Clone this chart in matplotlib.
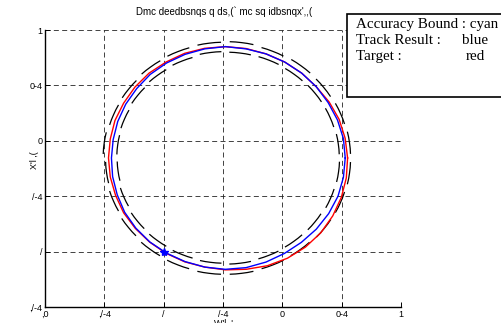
import numpy as np
import matplotlib
matplotlib.use("Agg")
import matplotlib.pyplot as plt
from matplotlib.patches import Arc, Rectangle

# ---------------------------------------------------------------------------
# Data (polar readings around the circle centre)
# ---------------------------------------------------------------------------
center = (0.52, 0.845)

angles_deg = [0, 10, 20, 30, 40, 50, 60, 70, 80, 90, 100, 110, 120, 130, 140, 150, 160, 170,
              180, 190, 200, 210, 220, 230, 240, 250, 260, 270, 280, 290, 300, 310, 320, 330,
              340, 350, 360]

track_r = [1.01, 1.01, 1.005, 1.0, 1.0, 1.0, 1.0, 1.0, 1.0, 1.005, 1.0, 0.995, 0.99, 0.985,
           0.975, 0.97, 0.965, 0.96, 0.96, 0.965, 0.97, 0.98, 0.985, 0.99, 0.992, 0.995, 1.0,
           1.005, 1.005, 1.0, 0.995, 0.995, 1.0, 1.005, 1.01, 1.01, 1.01]

target_r = [1.03, 1.025, 1.02, 1.01, 1.0, 1.0, 1.0, 1.0, 1.003, 1.005, 1.005, 1.005, 1.0, 1.0,
            0.995, 0.99, 0.99, 0.985, 0.985, 0.985, 0.985, 0.99, 0.99, 0.992, 0.995, 0.998, 1.0,
            1.01, 1.02, 1.035, 1.045, 1.05, 1.05, 1.045, 1.04, 1.035, 1.03]

# accuracy bound: short arcs (start angle, end angle, outer radius, inner radius)
bound_theta1 = [2, 17, 32, 47, 62, 77, 92, 107, 122, 137, 152, 167,
                182, 197, 212, 227, 242, 257, 272, 287, 302, 317, 332, 347]
bound_theta2 = [13, 28, 43, 58, 73, 88, 103, 118, 133, 148, 163, 178,
                193, 208, 223, 238, 253, 268, 283, 298, 313, 328, 343, 358]
bound_outer = [1.055, 1.05, 1.045, 1.048, 1.042, 1.05, 1.045, 1.04, 1.035, 1.025, 1.02, 1.03,
               1.01, 1.02, 1.03, 1.04, 1.045, 1.05, 1.05, 1.045, 1.04, 1.048, 1.05, 1.055]
bound_inner = [0.96, 0.955, 0.955, 0.952, 0.956, 0.955, 0.96, 0.948, 0.94, 0.93, 0.92, 0.915,
               0.912, 0.925, 0.935, 0.94, 0.945, 0.95, 0.958, 0.952, 0.948, 0.95, 0.958, 0.962]

start_point = (0.0, 0.0)

xticks = [-1, -0.5, 0, 0.5, 1, 1.5, 2]
xtick_labels = [",0", ",/-4", "/", "/-4", "0", "0-4", "1"]
yticks = [-0.5, 0, 0.5, 1, 1.5, 2]
ytick_labels = [",/-4", "/", "/-4", "0", "0-4", "1"]

title_text = "Dmc deedbsnqs q ds,(` mc sq idbsnqx',,("

# ---------------------------------------------------------------------------
# Figure
# ---------------------------------------------------------------------------
W, H = 502, 323
fig = plt.figure(figsize=(W / 100, H / 100), dpi=100)
ax = fig.add_axes([45 / W, 1 - 307 / H, 356 / W, 277 / H])

th = np.radians(angles_deg)
tx = center[0] + np.array(track_r) * np.cos(th)
ty = center[1] + np.array(track_r) * np.sin(th)
gx = center[0] + np.array(target_r) * np.cos(th)
gy = center[1] + np.array(target_r) * np.sin(th)

for t1, t2, ro, ri in zip(bound_theta1, bound_theta2, bound_outer, bound_inner):
    for r in (ro, ri):
        ax.add_patch(Arc(center, 2 * r, 2 * r, theta1=t1, theta2=t2,
                         color="black", lw=0.9))

ax.plot(gx, gy, color="red", lw=1.0)
ax.plot(tx, ty, color="blue", lw=1.0)
ax.plot(*start_point, marker="*", color="blue", ms=6)

ax.set_xlim(-1, 2)
ax.set_ylim(-0.5, 2)
ax.set_xticks(xticks)
ax.set_xticklabels(xtick_labels)
ax.set_yticks(yticks)
ax.set_yticklabels(ytick_labels)
ax.tick_params(direction="in", length=3.5, width=0.7, labelsize=6.5, pad=2)
for lab in ax.get_xticklabels() + ax.get_yticklabels():
    lab.set_family("Liberation Sans")

ax.spines["top"].set_visible(False)
ax.spines["right"].set_visible(False)
ax.spines["left"].set_linewidth(1.0)
ax.spines["bottom"].set_linewidth(1.0)
ax.grid(True, color="#222222", linestyle=(0, (6, 4)), lw=0.6)
ax.set_axisbelow(True)

fig.text(224 / W, 1 - 12 / H, title_text, ha="center", va="center",
         fontsize=7, family="Liberation Sans")
fig.text(35 / W, 1 - 160 / H, "X'l ,(", rotation=90, ha="center", va="center",
         fontsize=6.5, family="Liberation Sans")
fig.text(224 / W, 1 - 323 / H, "W'l ,'", ha="center", va="center",
         fontsize=6.5, family="Liberation Sans")

# text box in the upper right
fig.patches.append(Rectangle((347 / W, 1 - 97 / H), 170 / W, 83 / H,
                             transform=fig.transFigure, facecolor="white",
                             edgecolor="black", lw=1.2, zorder=5))
serif = dict(fontsize=10.8, family="Liberation Serif", va="baseline", zorder=6)
fig.text(356 / W, 1 - 28 / H, "Accuracy Bound : cyan", **serif)
fig.text(356 / W, 1 - 44 / H, "Track Result :", **serif)
fig.text(462 / W, 1 - 44 / H, "blue", **serif)
fig.text(356 / W, 1 - 60 / H, "Target :", **serif)
fig.text(466 / W, 1 - 60 / H, "red", **serif)

fig.savefig("out.png", dpi=100)
